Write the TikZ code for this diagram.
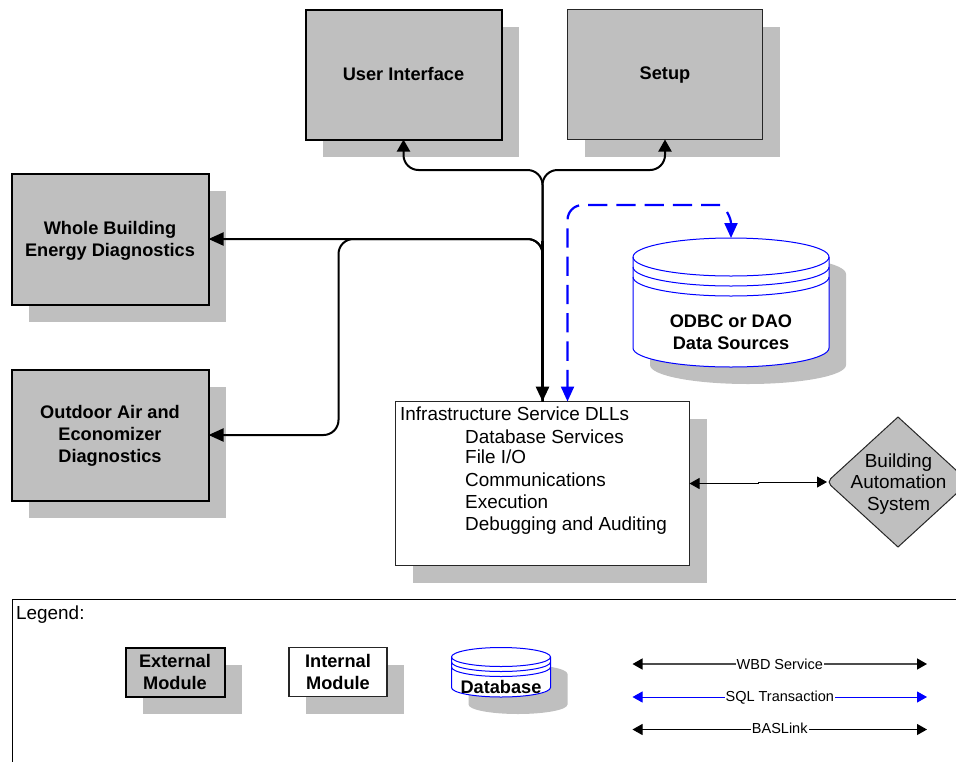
\documentclass[tikz,border=0pt]{standalone}
\usepackage{fontspec}
\setmainfont{Liberation Sans}
\usetikzlibrary{arrows.meta,calc,shapes.geometric}
\definecolor{shadowgray}{HTML}{BFBFBF}
\definecolor{dbblue}{HTML}{0000FF}
\tikzset{
  boldtxt/.style={font=\fontsize{18.2}{21.7}\selectfont\bfseries,align=center,inner sep=0pt},
  plaintxt/.style={font=\fontsize{18.9}{21.5}\selectfont,inner sep=0pt},
  smalltxt/.style={font=\fontsize{14.5}{17}\selectfont,inner sep=1pt,fill=white,text height=10.5pt,text depth=3pt},
  shadowbox/.style={fill=shadowgray,draw=none,inner sep=0pt,outer sep=0pt},
  extbox/.style={fill=shadowgray,draw=black,line width=2pt,inner sep=0pt,outer sep=0pt},
  extthin/.style={fill=shadowgray,draw=black!85,line width=1.1pt,inner sep=0pt,outer sep=0pt},
  intbox/.style={fill=white,draw=black!85,line width=1.1pt,inner sep=0pt,outer sep=0pt},
  conn/.style={draw=black,line width=2pt,rounded corners=15pt},
  bigtip/.style={-{Triangle[length=15pt,width=13pt]}},
  smalltip/.style={-{Triangle[length=12pt,width=13pt]}},
  sqlconn/.style={draw=dbblue,line width=2.2pt,rounded corners=15pt,dash pattern=on 19.3pt off 9pt,dash phase=2pt},
  linkconn/.style={draw=black,line width=1pt,{Triangle[length=10pt,width=11pt]}-{Triangle[length=10pt,width=11pt]}},
  bluelink/.style={draw=dbblue,line width=1pt,{Triangle[length=10pt,width=11pt]}-{Triangle[length=10pt,width=11pt]}},
  grayconn/.style={draw=black!70,line width=1.4pt,{Triangle[length=10pt,width=11pt,color=black]}-{Triangle[length=10pt,width=11pt,color=black]}},
  dbfill/.style={fill=white,draw=dbblue,line width=1pt},
}
% name, style, cx, cy, w, h, text y offset, text
\newcommand\modbox[8]{%
  \node[shadowbox,minimum width=#5pt,minimum height=#6pt] (#1S) at ($(#3,#4)+(17,17)$) {};
  \node[#2,minimum width=#5pt,minimum height=#6pt] (#1) at (#3,#4) {};
  \node[boldtxt] (#1T) at ($(#3,#4)+(0,#7)$) {#8};
}
% name, cx, top centre y, rx, ry, gap, side height, text y offset, text
\newcommand\dbcyl[9]{%
  \begin{scope}[shift={(#2,#3)}]
    \fill[shadowgray] (-#4+17,17) -- (-#4+17,#7+17) arc[start angle=180,end angle=360,x radius=#4pt,y radius=#5pt]
      -- (#4+17,17) arc[start angle=0,end angle=180,x radius=#4pt,y radius=#5pt] -- cycle;
    \path[dbfill] (-#4,0) -- (-#4,#7) arc[start angle=180,end angle=360,x radius=#4pt,y radius=#5pt]
      -- (#4,0) arc[start angle=0,end angle=180,x radius=#4pt,y radius=#5pt] -- cycle;
    \draw[dbblue,line width=1pt] (-#4,0) arc[start angle=180,end angle=360,x radius=#4pt,y radius=#5pt];
    \draw[dbblue,line width=1pt] (-#4,#6) arc[start angle=180,end angle=360,x radius=#4pt,y radius=#5pt];
    \draw[dbblue,line width=1pt] (-#4,2*#6) arc[start angle=180,end angle=360,x radius=#4pt,y radius=#5pt];
    \node[inner sep=0pt,outer sep=0pt,minimum width=2*#4 pt,minimum height=2*#5 pt+#7 pt] (#1) at (0,#7/2) {};
    \node[boldtxt] (#1T) at (0,#8) {#9};
  \end{scope}
}
\begin{document}
\begin{tikzpicture}[x=1pt,y=-1pt]
\useasboundingbox (0.5,0.5) rectangle (956.5,761.5);

% modules
\modbox{ui}{extbox}{404}{75}{196}{130}{-0.5}{User Interface}
\modbox{setup}{extthin}{665.5}{75}{195}{130}{1}{Setup}
\modbox{whole}{extbox}{110.5}{239.5}{197}{131}{1.5}{Whole Building\\Energy Diagnostics}
\modbox{outdoor}{extbox}{110.5}{435.5}{197}{131}{1}{Outdoor Air and\\Economizer\\Diagnostics}
\modbox{dll}{intbox}{543}{484}{294}{164}{0}{}
\dbcyl{odbc}{731.5}{257.5}{98}{19}{10}{91}{75.5}{ODBC or DAO\\Data Sources}

% DLL text
\node[plaintxt,anchor=base west] (dll0) at (400.5,420.5) {Infrastructure Service DLLs};
\node[plaintxt,anchor=base west] (dll1) at (465.5,443.5) {Database Services};
\node[plaintxt,anchor=base west] (dll2) at (465.5,463.5) {File I/O};
\node[plaintxt,anchor=base west] (dll3) at (465.5,486.5) {Communications};
\node[plaintxt,anchor=base west] (dll4) at (465.5,508.5) {Execution};
\node[plaintxt,anchor=base west] (dll5) at (465.5,530.5) {Debugging and Auditing};

% building automation system
\node[shape=diamond,aspect=1.09,minimum width=142pt,minimum height=130pt,inner sep=0pt,outer sep=0pt] (bas) at (898.5,482.5) {};
\path[fill=shadowgray,draw=black!85,line width=1pt] (bas.north) -- (bas.east) -- (bas.south) [rounded corners=5pt] -- (bas.west) [sharp corners] -- (bas.north) -- cycle;
\node[plaintxt,align=center] (bastxt) at (899,484.5) {Building\\Automation\\System};

% connectors
\coordinate (fork) at (543,170.5);
\coordinate (bend) at (339,239.5);
\draw[conn,smalltip] (dll.north) -- (fork) -| (ui.south);
\draw[conn,smalltip] (dll.north) -- (fork) -| (setup.south);
\draw[conn,bigtip] (dll.north) |- (whole.east);
\draw[conn,bigtip] (dll.north) |- (bend) |- (outdoor.east);
\draw[draw=black,line width=3pt,bigtip] (543,241) -- (dll.north);
\coordinate (dllq) at ($(dll.north)+(25,0)$);
\coordinate (sqltop) at (568,205.5);
\draw[sqlconn,{Triangle[length=15pt,width=13pt]}-] (dllq) |- ($(sqltop -| odbc.north)+(-11,0)$);
\draw[draw=dbblue,line width=2.2pt,-{Triangle[length=15pt,width=13pt]}] ($(sqltop -| odbc.north)+(-4,7)$) .. controls ($(sqltop -| odbc.north)+(-1,12)$) and ($(sqltop -| odbc.north)+(0,16)$) .. (odbc.north);
\draw[linkconn] (dll.east) -- ++(69,0) |- (bas.west);

% legend
\coordinate (legBL) at (13,762);
\coordinate (legTL) at (13,599.5);
\coordinate (legTR) at (957,599.5);
\draw[black,line width=1pt] (legBL) -- (legTL) -- (legTR);
\node[plaintxt,anchor=base west] (legtitle) at (16.5,619.5) {Legend:};
\modbox{lext}{extbox}{175.5}{672.5}{99}{49}{-0.3}{External\\Module}
\modbox{lint}{intbox}{338.5}{672.5}{98}{49}{-0.3}{Internal\\Module}
\dbcyl{ldb}{501.5}{657.5}{49.5}{9.5}{5}{30.5}{29.5}{Database}

\coordinate (a1) at (633,664.5);
\coordinate (b1) at (927.5,664.5);
\coordinate (a2) at (633,697.5);
\coordinate (b2) at (927.5,697.5);
\coordinate (a3) at (633,730);
\coordinate (b3) at (927.5,730);
\draw[grayconn] (a1) -- node[smalltxt,yshift=-1.5pt] (l1) {WBD Service} (b1);
\draw[bluelink] (a2) -- node[smalltxt,yshift=-0.5pt] (l2) {SQL Transaction} (b2);
\draw[linkconn] (a3) -- node[smalltxt] (l3) {BASLink} (b3);
\end{tikzpicture}
\end{document}
